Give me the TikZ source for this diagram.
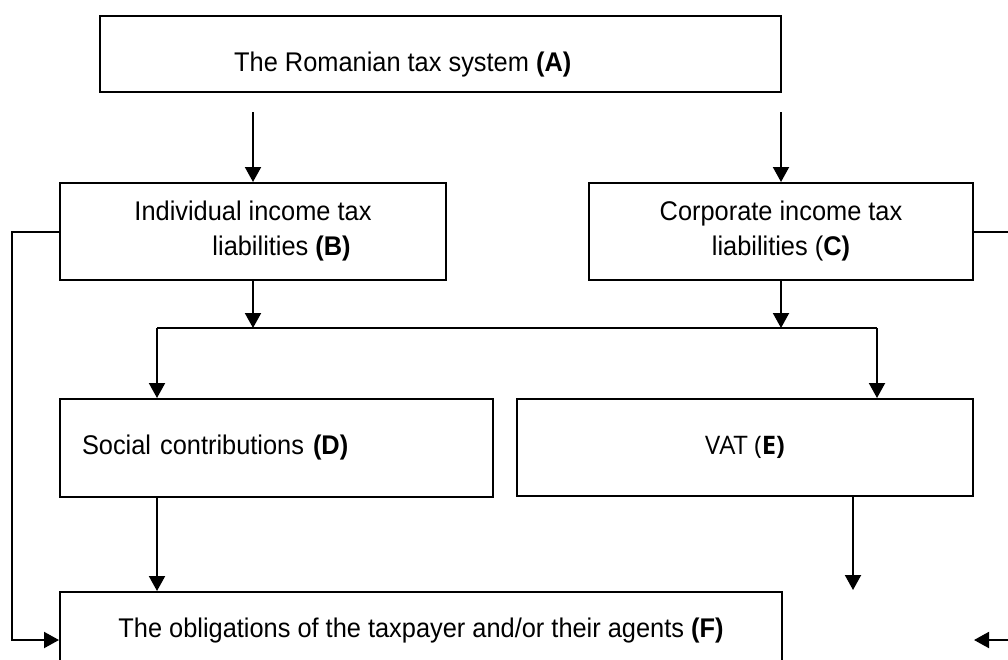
\documentclass[tikz,border=0pt]{standalone}
\usepackage{fontspec}
\setmainfont[FakeStretch=0.94]{Liberation Sans}
\newfontfamily\vatfont{Open Sans}
\usetikzlibrary{arrows.meta}

\begin{document}
\begin{tikzpicture}[
  x=1pt, y=-1pt,
  box/.style={draw, line width=2pt, inner sep=0pt, font=\fontsize{27}{35}\selectfont},
  txt/.style={inner sep=0pt, font=\fontsize{27}{35}\selectfont},
  arr/.style={line width=2pt, -{Triangle[length=15pt, width=16pt]}},
  link/.style={line width=2pt},
]
  \useasboundingbox (0,0) rectangle (1008,659);
  \clip (0,0) rectangle (1008,659);
  \fill[white] (0,0) rectangle (1008,659);

  \node[box, minimum width=681pt, minimum height=76pt] (A) at (440.5,54) {};
  \node[txt, anchor=base west] (Atxt) at (234,71) {The Romanian tax system \textbf{(A)}};
  \node[box, minimum width=386pt, minimum height=97pt, align=left] (B) at (253,231.5)
    {Individual income tax\\\hspace*{78pt}liabilities \textbf{(B)}};
  \node[box, minimum width=384pt, minimum height=97pt, align=center] (C) at (781,231.5)
    {Corporate income tax\\liabilities (\textbf{C)}};
  \node[box, minimum width=433pt, minimum height=98pt, text width=389pt, align=left] (D) at (276.5,448)
    {Social contributions \textbf{(D)}};
  \node[box, minimum width=456pt, minimum height=97pt] (E) at (745,447.5)
    {\vatfont\fontsize{25.5}{35}\selectfont VAT (\textbf{E)}};
  \node[box, minimum width=722pt, minimum height=78pt] (F) at (421,631)
    {The obligations of the taxpayer and/or their agents \textbf{(F)}};

  \coordinate (ab) at (253,112);
  \coordinate (ac) at (781,112);
  \coordinate (jl) at (157,328);
  \coordinate (jr) at (877,328);
  \coordinate (etip) at (853,590);
  \coordinate (lb) at (12,640);
  \coordinate (rb) at (1020,640);
  \coordinate (rtip) at (974,640);

  \draw[arr] (ab) -- (ab |- B.north);
  \draw[arr] (ac) -- (ac |- C.north);
  \draw[arr] (B.south) -- (B.south |- jl);
  \draw[arr] (C.south) -- (C.south |- jl);
  \draw[link] (jl) -- (jr);
  \draw[arr] (jl) -- (jl |- D.north);
  \draw[arr] (jr) -- (jr |- E.north);
  \draw[arr] (D.south -| jl) -- (F.north -| jl);
  \draw[arr] (E.south -| etip) -- (etip);
  \draw[arr] (B.west) -| (lb) -- (lb -| F.west);
  \draw[arr] (C.east) -| (rb) -- (rtip);
\end{tikzpicture}
\end{document}
